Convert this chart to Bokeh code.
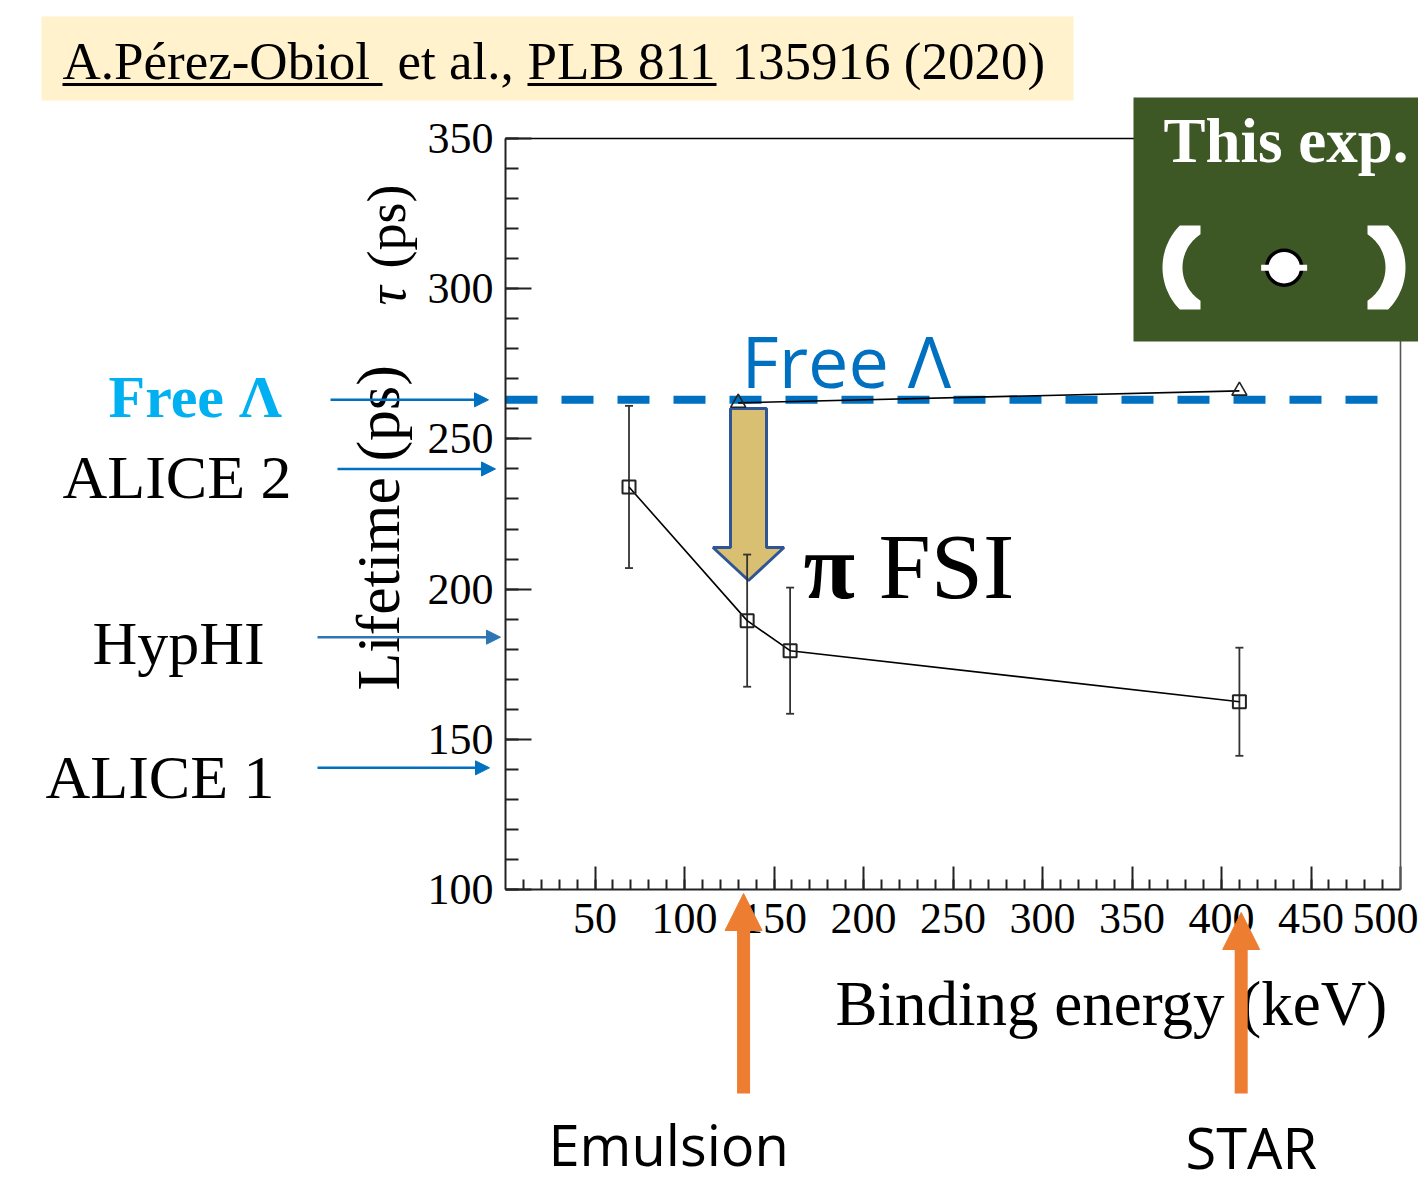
from math import pi

import numpy as np
from bokeh.embed import file_html
from bokeh.models import (Arrow, BoxAnnotation, ColumnDataSource, FixedTicker, Label,
                          LinearAxis, NormalHead, PolyAnnotation, Range1d, TeeHead,
                          Whisker)
from bokeh.plotting import figure
from bokeh.resources import INLINE

# ---- data -------------------------------------------------------------
# calculated lifetime vs. hypertriton binding energy (open squares)
binding_energy = [69, 135, 159, 410]          # keV
lifetime = [234.0, 189.5, 179.5, 162.5]       # ps
lifetime_err = [27, 22, 21, 18]               # ps

# upper curve (open triangles)
tri_binding_energy = [130, 410]               # keV
tri_lifetime = [262, 266]                     # ps

# measured lifetimes pointed at from the left
ref_names = ["Free Λ", "ALICE 2", "HypHI", "ALICE 1"]
ref_lifetime = [263, 240, 184, 140.5]         # ps
free_lambda_tau = 263                         # ps

# measured binding energies pointed at from below
be_names = ["Emulsion", "STAR"]
be_values = [133, 411]                        # keV

# placeholder marker for this experiment
this_exp_be = [435]
this_exp_tau = [307]

x_ticks = [50, 100, 150, 200, 250, 300, 350, 400, 450, 500]
y_ticks = [100, 150, 200, 250, 300, 350]

# ---- canvas geometry ----------------------------------------------------
# The whole canvas is the plotting frame; the axes sit at fixed positions
# inside it so that the side notes around the axes can be drawn freely.
W, H = 1418, 1188
FL, FR, FT, FB = 505, 1400, 138, 889      # axes box in canvas pixels
XR = (0, 500)
YR = (100, 350)


def sx(px):
    """canvas pixel column -> data x"""
    return XR[0] + (px - FL) * (XR[1] - XR[0]) / (FR - FL)


def sy(py):
    """canvas pixel row -> data y"""
    return YR[1] - (py - FT) * (YR[1] - YR[0]) / (FB - FT)


SERIF = "Liberation Serif"
SANS = "Open Sans"
# half of (ascent - descent), to place a text by its baseline
MID = {SERIF: 0.3375, SANS: 0.388}
BLUE = "#0070C0"
ORANGE = "#ED7D31"

p = figure(width=W, height=H, x_range=Range1d(sx(0), sx(W)),
           y_range=Range1d(sy(H), sy(0)), x_axis_type=None, y_axis_type=None,
           output_backend="svg", toolbar_location=None)
p.min_border = 0
p.background_fill_color = "white"
p.border_fill_color = "white"
p.outline_line_color = None
p.grid.visible = False


def text(txt, px, py, size, font=SERIF, color="black", style="normal",
         angle=0.0, align="left", level="annotation"):
    """label placed by its baseline point (canvas pixels)"""
    off = MID[font] * size
    if angle:
        ax_, ay_ = px - off, py
    else:
        ax_, ay_ = px, py - off
    p.add_layout(Label(x=sx(ax_), y=sy(ay_), text=txt, text_font=font,
                       text_font_size=f"{size}px", text_font_style=style,
                       text_color=color, text_align=align, text_baseline="middle",
                       angle=angle, level=level))


# ---- axes (ticks point inward) -----------------------------------------
xa = LinearAxis(fixed_location=YR[0], bounds=XR,
                ticker=FixedTicker(ticks=x_ticks, minor_ticks=list(range(10, 500, 10))))
xa.major_tick_in, xa.major_tick_out = 23, 0
xa.minor_tick_in, xa.minor_tick_out = 10, 0
xa.major_label_standoff = 14

ya = LinearAxis(fixed_location=XR[0], bounds=YR,
                ticker=FixedTicker(ticks=y_ticks, minor_ticks=list(range(100, 351, 10))))
ya.major_tick_in, ya.major_tick_out = 26, 0
ya.minor_tick_in, ya.minor_tick_out = 13, 0
ya.major_label_standoff = 12

for ax in (xa, ya):
    ax.axis_line_width = 2
    ax.axis_line_color = "#222222"
    ax.major_tick_line_width = 2
    ax.minor_tick_line_width = 2
    ax.major_tick_line_color = "#222222"
    ax.minor_tick_line_color = "#222222"
    ax.major_label_text_font = SERIF
    ax.major_label_text_font_size = "44px"
    ax.major_label_text_color = "black"
p.add_layout(xa, "below")
p.add_layout(ya, "left")

# plain frame edges on top and right
for side, loc, bnd, color in (("above", YR[1], XR, "black"),
                              ("right", XR[1], YR, "#555555")):
    edge = LinearAxis(fixed_location=loc, bounds=bnd, ticker=FixedTicker(ticks=[]),
                      axis_line_color=color, axis_line_width=1.6,
                      major_tick_in=0, major_tick_out=0, minor_tick_in=0,
                      minor_tick_out=0, major_label_standoff=0,
                      major_label_text_font_size="0px")
    p.add_layout(edge, side)

# ---- free Lambda reference line ----------------------------------------
p.segment(x0=[XR[0]], x1=[XR[1]], y0=[free_lambda_tau], y1=[free_lambda_tau],
          line_color=BLUE, line_width=8, line_dash="32 24", level="underlay")

# ---- pi FSI block arrow -------------------------------------------------
acx, atop, abase, atip, shaft, head = 748, 408, 547, 580, 18, 35.5
arrow_x = [acx - shaft, acx + shaft, acx + shaft, acx + head, acx, acx - head, acx - shaft]
arrow_y = [atop, atop, abase, abase, atip, abase, abase]
p.add_layout(PolyAnnotation(xs=[sx(v) for v in arrow_x], ys=[sy(v) for v in arrow_y],
                            fill_color="#D8BF71", fill_alpha=1.0,
                            line_color="#2F5597", line_alpha=1.0, line_width=3,
                            level="underlay"))

# ---- error bars, curves, markers ---------------------------------------
src = ColumnDataSource(dict(
    x=binding_energy, y=lifetime,
    upper=[v + e for v, e in zip(lifetime, lifetime_err)],
    lower=[v - e for v, e in zip(lifetime, lifetime_err)],
))
p.add_layout(Whisker(source=src, base="x", upper="upper", lower="lower",
                     line_color="#333333", line_width=1.8, level="underlay",
                     upper_head=TeeHead(size=8, line_color="#333333", line_width=1.8),
                     lower_head=TeeHead(size=8, line_color="#333333", line_width=1.8)))

p.line(binding_energy, lifetime, line_color="black", line_width=1.6)
p.scatter(binding_energy, lifetime, marker="square", size=13, fill_color=None,
          line_color="#222222", line_width=2)

p.line(tri_binding_energy, tri_lifetime, line_color="black", line_width=1.6)
p.scatter(tri_binding_energy, tri_lifetime, marker="triangle", size=15,
          fill_color=None, line_color="#222222", line_width=1.6)

# ---- texts inside the axes box -----------------------------------------
text("Free Λ", 741, 387, 72, font=SANS, color=BLUE)
text("π", 803, 597, 94, style="bold")
text("FSI", 878, 597, 94)

# ---- axis titles ---------------------------------------------------------
text("Lifetime (ps)", 398, 690, 62, angle=pi / 2)
text("τ", 405, 305, 54, style="italic", angle=pi / 2)
text("(ps)", 405, 268, 54, angle=pi / 2)
text("Binding energy (keV)", 835, 1025, 63)

# ---- measured lifetimes on the left -------------------------------------
ref_label_x = [108, 62, 92, 45]
ref_label_y = [417, 497, 663, 797]
ref_arrow_x = [(330, 488), (337, 495), (317, 500), (317, 489)]
ref_colors = [BLUE, BLUE, "#2E75B6", BLUE]
for i, name in enumerate(ref_names):
    if i == 0:
        text(name, ref_label_x[i], ref_label_y[i], 60, color="#00B0F0", style="bold")
    else:
        text(name, ref_label_x[i], ref_label_y[i], 62)
    x0, x1 = ref_arrow_x[i]
    p.add_layout(Arrow(x_start=sx(x0), y_start=ref_lifetime[i],
                       x_end=sx(x1), y_end=ref_lifetime[i],
                       line_color=ref_colors[i], line_width=2.5,
                       end=NormalHead(size=14, fill_color=ref_colors[i],
                                      line_color=ref_colors[i], line_width=1)))

# ---- measured binding energies below ------------------------------------
be_tip = [893, 912]
be_label_x = [548, 1185]
be_label_y = [1165, 1168]
for i, name in enumerate(be_names):
    p.add_layout(Arrow(x_start=be_values[i], y_start=sy(1093),
                       x_end=be_values[i], y_end=sy(be_tip[i]),
                       line_color=ORANGE, line_width=13,
                       end=NormalHead(size=37, fill_color=ORANGE,
                                      line_color=ORANGE, line_width=1)))
    text(name, be_label_x[i], be_label_y[i], 56, font=SANS)

# ---- citation banner ----------------------------------------------------
p.add_layout(BoxAnnotation(left=sx(41), right=sx(1073), top=sy(16), bottom=sy(100),
                           fill_color="#FFF2CC", fill_alpha=1.0, line_color=None,
                           level="underlay"))
for txt, x0 in (("A.Pérez-Obiol", 62), ("et al.,", 397), ("PLB 811", 527),
                ("135916 (2020)", 731)):
    text(txt, x0, 78, 53)
for x0, x1 in ((62, 382), (527, 716)):
    p.add_layout(BoxAnnotation(left=sx(x0), right=sx(x1), top=sy(82.5), bottom=sy(85.5),
                               fill_color="black", fill_alpha=1.0, line_color=None))

# ---- "This exp." panel --------------------------------------------------
p.add_layout(BoxAnnotation(left=sx(1133), right=sx(1430), top=sy(97), bottom=sy(341),
                           fill_color="#3D5725", fill_alpha=1.0, line_color=None,
                           level="annotation"))
text("This exp.", 1163, 162, 63, color="white", style="bold", level="overlay")


def bracket(cx, edge, sign, ytop, ybot, r_out, r_in, n=40):
    """thick round bracket: region between two circles, cut flat at the ends"""
    cy = 0.5 * (ytop + ybot)
    h = 0.5 * (ybot - ytop)
    phi0 = np.arcsin(h / r_out)
    pts = [(edge, ytop)]
    for ph in np.linspace(-phi0, phi0, n):
        pts.append((cx + sign * r_out * np.cos(ph), cy + r_out * np.sin(ph)))
    pts.append((edge, ybot))
    phi_i = np.arccos(abs(edge - cx) / r_in)
    for ph in np.linspace(phi_i, -phi_i, n):
        pts.append((cx + sign * r_in * np.cos(ph), cy + r_in * np.sin(ph)))
    return [float(sx(a)) for a, _ in pts], [float(sy(b)) for _, b in pts]


for cx, edge, sign in ((1221.5, 1200, -1), (1345.5, 1367, 1)):
    bx, by = bracket(cx, edge, sign, 225, 309, 59.5, 39.5)
    p.add_layout(PolyAnnotation(xs=bx, ys=by, fill_color="white", fill_alpha=1.0,
                                line_color=None, level="overlay"))

p.scatter(this_exp_be, this_exp_tau, marker="circle", size=35, fill_color="white",
          line_color="black", line_width=3.5, level="overlay")
p.rect(this_exp_be, this_exp_tau, width=46, height=6, width_units="screen",
       height_units="screen", fill_color="white", line_color=None, level="overlay")

open("out.html", "w").write(file_html(p, INLINE))
